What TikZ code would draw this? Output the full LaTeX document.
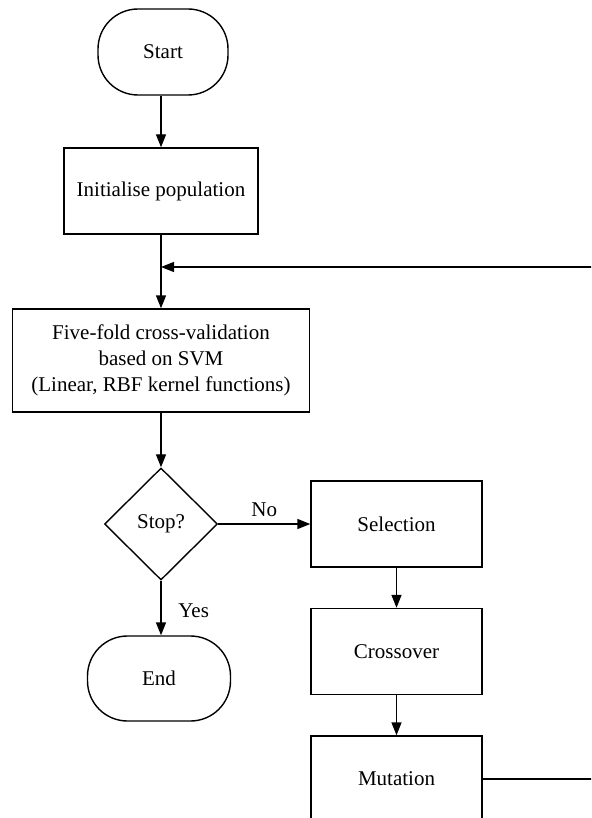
\documentclass[tikz,border=0pt]{standalone}
\usepackage{fontspec}
\setmainfont{Liberation Serif}
\usetikzlibrary{shapes.geometric,arrows.meta}
\tikzstyle{term} = [draw, rounded corners=20pt, inner sep=0pt, minimum width=65pt, minimum height=43pt]
\tikzstyle{proc} = [draw, inner sep=0pt, align=center, minimum height=43pt]
\tikzstyle{decide} = [draw, diamond, inner sep=0pt, minimum width=56.5pt, minimum height=56pt]
\tikzstyle{flow} = [-{Triangle[length=6.5pt,width=5pt]}]

\begin{document}
\begin{tikzpicture}[x=0.5pt,y=-0.5pt,line width=0.7pt,
  every node/.style={font=\fontsize{10.5}{13}\selectfont}]
  \useasboundingbox (0,0) rectangle (591,818);
  \clip (0,0) rectangle (591,818);
  \node[term](start) at (163,52){Start};
  \node[proc,minimum width=97pt](init) at (161,191){Initialise population};
  \node[proc,minimum width=148.5pt,minimum height=51.5pt](cv) at (161,360.5)
    {Five-fold cross-validation\\based on SVM\\(Linear, RBF kernel functions)};
  \node[decide](stop) at (161,524){Stop?};
  \node[term,minimum width=71.5pt,minimum height=42.5pt](end) at (159,678.5){End};
  \node[proc,minimum width=85.5pt](sel) at (396.5,524){Selection};
  \node[proc,minimum width=85.5pt](cross) at (396.5,651.5){Crossover};
  \node[proc,minimum width=85.5pt](mut) at (396.5,779){Mutation};
  \coordinate (back) at (640,267);
  \draw[flow](init.north |- start.south)--(init);
  \draw[flow](init)--(cv);
  \draw[flow](cv)--(stop);
  \draw[flow](stop)--node[above]{No}(sel);
  \draw[flow](stop)--node[right=5pt,pos=0.55]{Yes}(stop |- end.north);
  \draw[flow](sel)--(cross);
  \draw[flow](cross)--(mut);
  \draw[flow](mut.east)-|(back)--(init.south |- back);
\end{tikzpicture}
\end{document}
